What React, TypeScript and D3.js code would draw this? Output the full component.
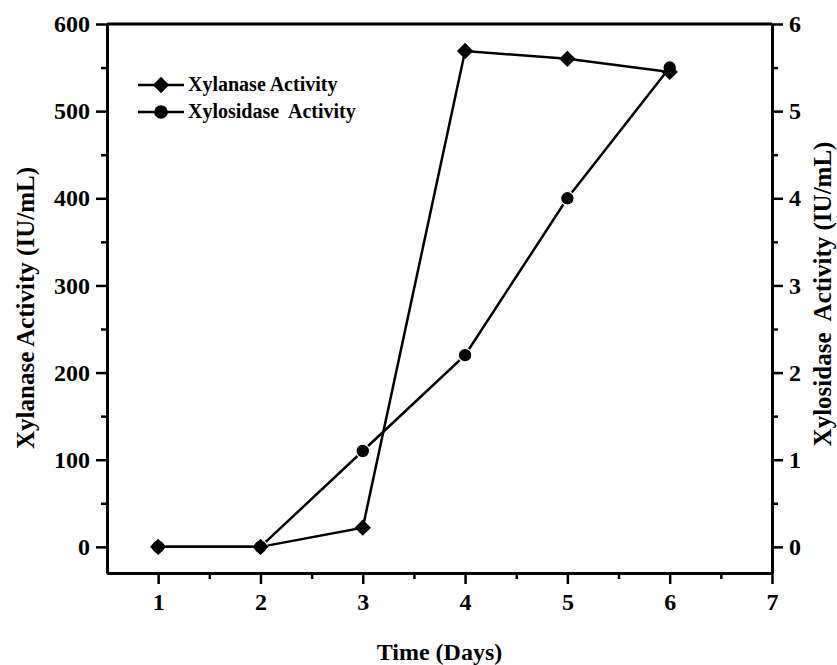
import React, { useEffect, useRef } from 'react';
import * as d3 from 'd3';

// values
const days = [1, 2, 3, 4, 5, 6];
const xylanase = [0, 0, 22, 569, 560, 545];
const xylosidase = [0, 0, 1.1, 2.2, 4.0, 5.5];
const xTicks = [1, 2, 3, 4, 5, 6, 7];
const leftTicks = [0, 100, 200, 300, 400, 500, 600];
const rightTicks = [0, 1, 2, 3, 4, 5, 6];
const legendLabels = ['Xylanase Activity', 'Xylosidase  Activity'];

const W = 837;
const H = 665;
const FONT = '"Liberation Serif", "Times New Roman", serif';

const App = () => {
  const ref = useRef<SVGSVGElement>(null);

  useEffect(() => {
    const svg = d3.select(ref.current);
    svg.selectAll('*').remove();

    const margin = { left: 107, right: W - 772, top: 24, bottom: H - 573 };
    const x = d3.scaleLinear().domain([0.5, 7]).range([margin.left, W - margin.right]);
    const yL = d3.scaleLinear().domain([-30, 600]).range([H - margin.bottom, margin.top]);
    const yR = d3.scaleLinear().domain([-0.3, 6]).range([H - margin.bottom, margin.top]);

    const axisStyle = (g: any) => {
      g.select('.domain').attr('stroke-width', 3);
      g.selectAll('.tick line').attr('stroke-width', 2.5);
      g.selectAll('.tick text')
        .attr('font-family', FONT)
        .attr('font-weight', 'bold')
        .attr('font-size', 24)
        .attr('fill', '#000');
    };

    // minor ticks
    const xMinor = xTicks.slice(0, -1).map(d => d + 0.5);
    const yMinor = leftTicks.slice(0, -1).map(d => d + 50);
    const rMinor = rightTicks.slice(0, -1).map(d => d + 0.5);

    svg.append('g')
      .attr('transform', `translate(0,${yL.range()[0]})`)
      .call(d3.axisBottom(x).tickValues(xMinor).tickSize(6).tickFormat(() => '').tickSizeOuter(0))
      .call(axisStyle);
    svg.append('g')
      .attr('transform', `translate(${x.range()[0]},0)`)
      .call(d3.axisLeft(yL).tickValues(yMinor).tickSize(6).tickFormat(() => '').tickSizeOuter(0))
      .call(axisStyle);
    svg.append('g')
      .attr('transform', `translate(${x.range()[1]},0)`)
      .call(d3.axisRight(yR).tickValues(rMinor).tickSize(6).tickFormat(() => '').tickSizeOuter(0))
      .call(axisStyle);

    // major ticks
    svg.append('g')
      .attr('transform', `translate(0,${yL.range()[0]})`)
      .call(d3.axisBottom(x).tickValues(xTicks).tickSize(11).tickPadding(9).tickFormat(d3.format('d')).tickSizeOuter(0))
      .call(axisStyle);
    svg.append('g')
      .attr('transform', `translate(${x.range()[0]},0)`)
      .call(d3.axisLeft(yL).tickValues(leftTicks).tickSize(11).tickPadding(6).tickFormat(d3.format('d')).tickSizeOuter(0))
      .call(axisStyle);
    svg.append('g')
      .attr('transform', `translate(${x.range()[1]},0)`)
      .call(d3.axisRight(yR).tickValues(rightTicks).tickSize(11).tickPadding(6).tickFormat(d3.format('d')).tickSizeOuter(0))
      .call(axisStyle);

    // top frame line
    svg.append('line')
      .attr('x1', x.range()[0]).attr('x2', x.range()[1])
      .attr('y1', yL.range()[1]).attr('y2', yL.range()[1])
      .attr('stroke', '#000').attr('stroke-width', 3);

    // series lines
    const lineL = d3.line<number>().x((d, i) => x(days[i])).y(d => yL(d));
    const lineR = d3.line<number>().x((d, i) => x(days[i])).y(d => yR(d));
    svg.append('path').attr('d', lineL(xylanase)).attr('fill', 'none').attr('stroke', '#000').attr('stroke-width', 2.5);
    svg.append('path').attr('d', lineR(xylosidase)).attr('fill', 'none').attr('stroke', '#000').attr('stroke-width', 2.5);

    svg.selectAll('.cir')
      .data(xylosidase)
      .enter().append('circle')
      .attr('cx', (d, i) => x(days[i]))
      .attr('cy', d => yR(d))
      .attr('r', 6.8)
      .attr('fill', '#000')
      .attr('stroke', '#fff')
      .attr('stroke-width', 1.2);

    const diamond = d3.symbol().type(d3.symbolDiamond2).size(170);
    svg.selectAll('.dia')
      .data(xylanase)
      .enter().append('path')
      .attr('transform', (d, i) => `translate(${x(days[i])},${yL(d)})`)
      .attr('d', diamond)
      .attr('fill', '#000');

    // legend
    const lg = svg.append('g');
    legendLabels.forEach((label, i) => {
      const ly = 85 + i * 27;
      lg.append('line').attr('x1', 138).attr('x2', 184).attr('y1', ly).attr('y2', ly)
        .attr('stroke', '#000').attr('stroke-width', 2.5);
      if (i === 0) {
        lg.append('path').attr('transform', `translate(161,${ly})`).attr('d', diamond).attr('fill', '#000');
      } else {
        lg.append('circle').attr('cx', 161).attr('cy', ly).attr('r', 6.8).attr('fill', '#000');
      }
      lg.append('text')
        .attr('x', 188).attr('y', ly + 6)
        .attr('font-family', FONT).attr('font-weight', 'bold').attr('font-size', 20)
        .style('white-space', 'pre')
        .text(label);
    });

    // axis titles
    svg.append('text')
      .attr('x', (x.range()[0] + x.range()[1]) / 2).attr('y', 660)
      .attr('text-anchor', 'middle')
      .attr('font-family', FONT).attr('font-weight', 'bold').attr('font-size', 24)
      .text('Time (Days)');
    svg.append('text')
      .attr('transform', `translate(34,308) rotate(-90)`)
      .attr('text-anchor', 'middle')
      .attr('font-family', FONT).attr('font-weight', 'bold').attr('font-size', 25)
      .text('Xylanase Activity (IU/mL)');
    svg.append('text')
      .attr('transform', `translate(831,294) rotate(-90)`)
      .attr('text-anchor', 'middle')
      .attr('font-family', FONT).attr('font-weight', 'bold').attr('font-size', 25)
      .style('white-space', 'pre')
      .text('Xylosidase  Activity (IU/mL)');
  }, []);

  return (
    <svg ref={ref} width={W} height={H}
      style={{ position: 'absolute', left: 0, top: 0, background: '#fff' }} />
  );
};

export default App;
